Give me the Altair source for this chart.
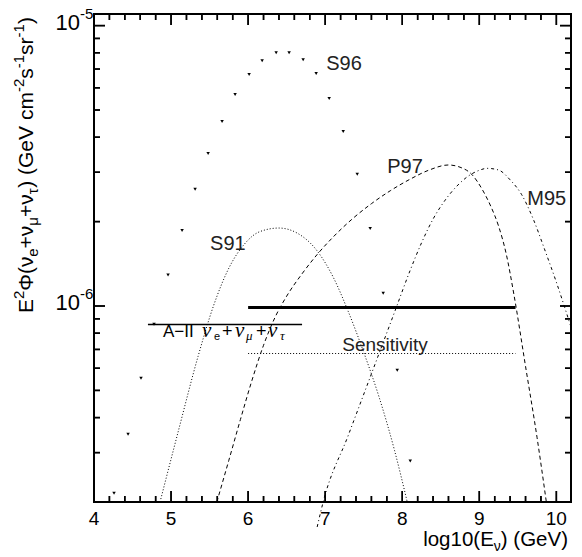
import math
import altair as alt
import pandas as pd

# ---------------- data ----------------
s96_x = [4.260, 4.442, 4.610, 4.779, 4.961, 5.143, 5.312, 5.481, 5.662, 5.831, 6.013, 6.182,
         6.364, 6.532, 6.714, 6.883, 7.052, 7.234, 7.416, 7.584, 7.753, 7.935, 8.104]
s96_y = [2.15e-7, 3.49e-7, 5.52e-7, 8.61e-7, 1.29e-6, 1.86e-6, 2.61e-6, 3.50e-6, 4.55e-6, 5.68e-6,
         6.69e-6, 7.50e-6, 8.01e-6, 8.01e-6, 7.56e-6, 6.75e-6, 5.50e-6, 4.19e-6, 2.95e-6, 1.89e-6,
         1.11e-6, 5.90e-7, 2.80e-7]

s91_x = [4.857, 5.10, 5.35, 5.55, 5.75, 5.95, 6.15, 6.40, 6.65, 6.90, 7.10, 7.30, 7.50, 7.70, 7.90, 8.065]
s91_y = [2.0e-7, 3.631e-7, 6.607e-7, 1.0e-6, 1.365e-6, 1.660e-6, 1.841e-6, 1.897e-6, 1.811e-6,
         1.567e-6, 1.274e-6, 9.55e-7, 6.84e-7, 4.73e-7, 3.055e-7, 2.0e-7]

p97_x = [5.594, 5.75, 5.90, 6.05, 6.20, 6.35, 6.50, 6.70, 6.90, 7.10, 7.35, 7.60, 7.85, 8.10, 8.35,
         8.60, 8.75, 8.90, 9.05, 9.15, 9.25, 9.35, 9.45, 9.60, 9.75, 9.87]
p97_y = [2.0e-7, 2.818e-7, 3.936e-7, 5.433e-7, 7.244e-7, 9.12e-7, 1.084e-6, 1.303e-6, 1.531e-6,
         1.758e-6, 2.042e-6, 2.317e-6, 2.582e-6, 2.831e-6, 3.055e-6, 3.184e-6, 3.126e-6, 2.951e-6,
         2.570e-6, 2.265e-6, 1.928e-6, 1.531e-6, 1.096e-6, 6.095e-7, 3.388e-7, 2.0e-7]

m95_x = [6.896, 6.974, 7.30, 7.60, 7.90, 8.10, 8.25, 8.40, 8.55, 8.70, 8.85, 9.00, 9.10, 9.25, 9.40,
         9.55, 9.70, 9.85, 10.00, 10.12, 10.19]
m95_y = [1.629e-7, 2.0e-7, 3.459e-7, 5.728e-7, 9.506e-7, 1.334e-6, 1.679e-6, 2.042e-6, 2.371e-6,
         2.661e-6, 2.897e-6, 3.048e-6, 3.097e-6, 3.055e-6, 2.818e-6, 2.495e-6, 2.042e-6, 1.585e-6,
         1.216e-6, 9.66e-7, 8.41e-7]

# horizontal segments: limit (thick), A-II, sensitivity
limit_x = [6.0, 9.47]
limit_y = 9.87e-7
a2_x = [4.70, 6.70]
a2_y = 8.59e-7
sens_x = [6.0, 9.47]
sens_y = 6.77e-7

# curve labels (left x, baseline y)
lab_text = ["S96", "P97", "M95", "S91", "Sensitivity"]
lab_x = [7.013, 7.805, 9.623, 5.506, 7.221]
lab_y = [6.97e-6, 2.97e-6, 2.29e-6, 1.579e-6, 6.9e-7]

x_major = [4, 5, 6, 7, 8, 9, 10]
x_labels = ["4", "5", "6", "7", "8", "9", "10"]
x_minor = [4.2, 4.4, 4.6, 4.8, 5.2, 5.4, 5.6, 5.8, 6.2, 6.4, 6.6, 6.8, 7.2, 7.4, 7.6, 7.8,
           8.2, 8.4, 8.6, 8.8, 9.2, 9.4, 9.6, 9.8]
y_major = [1e-6, 1e-5]
y_major_sup = ["-6", "-5"]
y_minor = [3e-7, 4e-7, 5e-7, 6e-7, 7e-7, 8e-7, 9e-7,
           2e-6, 3e-6, 4e-6, 5e-6, 6e-6, 7e-6, 8e-6, 9e-6]

# ---------------- layout ----------------
W, H = 477, 488
PADL, PADT = 94, 14
XMIN, XMAX = 4.0, 10.19
YMIN, YMAX = 2e-7, 1.1e-5
FONT = "Liberation Sans"
xs = alt.Scale(domain=[XMIN, XMAX], nice=False, zero=False)
ys = alt.Scale(type="log", domain=[YMIN, YMAX], nice=False)
PPU = W / (XMAX - XMIN)
PPD = H / math.log10(YMAX / YMIN)


def X(f):
    return alt.X(f, type="quantitative", scale=xs, axis=None)


def Y(f):
    return alt.Y(f, type="quantitative", scale=ys, axis=None)


layers = []


def curve(xv, yv, dash, width=1.0):
    df = pd.DataFrame({"x": xv, "y": yv})
    return alt.Chart(df).mark_line(color="black", strokeWidth=width, strokeDash=dash,
                                   interpolate="monotone").encode(x=X("x"), y=Y("y"))


layers.append(curve(s91_x, s91_y, [1, 2]))
layers.append(curve(p97_x, p97_y, [4, 3]))
layers.append(curve(m95_x, m95_y, [3, 3, 1, 3]))


def seg(xv, yv, width, dash=None):
    df = pd.DataFrame({"x0": [xv[0]], "x1": [xv[1]], "y": [yv]})
    kw = dict(color="black", strokeWidth=width)
    if dash:
        kw["strokeDash"] = dash
    return alt.Chart(df).mark_rule(**kw).encode(x=X("x0"), x2="x1", y=Y("y"))


layers.append(seg(limit_x, limit_y, 3))
layers.append(seg(a2_x, a2_y, 1.4))
layers.append(seg(sens_x, sens_y, 1, [1, 2]))


# ---- frame ticks (inside, four sides): vertical rules via fields, and tick marks ----
def xtick_layers(vals, L):
    f = 10 ** (L / PPD)
    out = []
    for lo, hi, yc in ((YMIN, YMIN * f, H - L / 2), (YMAX / f, YMAX, L / 2)):
        df = pd.DataFrame({"a": [float(v) for v in vals], "b0": lo, "b1": hi})
        out.append(alt.Chart(df).mark_rule(color="black", strokeWidth=1.5).encode(
            x=X("a"), y=Y("b0"), y2="b1"))
        out.append(alt.Chart(df).mark_tick(color="black", orient="vertical", size=L, thickness=1.5,
                                           opacity=1).encode(x=X("a"), y=alt.value(yc)))
    return out


def ytick_layers(vals, L):
    d = L / PPU
    out = []
    for lo, hi, xc in ((XMIN, XMIN + d, L / 2), (XMAX - d, XMAX, W - L / 2)):
        df = pd.DataFrame({"a": [float(v) for v in vals], "c0": lo, "c1": hi})
        out.append(alt.Chart(df).mark_rule(color="black", strokeWidth=1.5).encode(
            y=Y("a"), x=X("c0"), x2="c1"))
        out.append(alt.Chart(df).mark_tick(color="black", orient="horizontal", size=L, thickness=1.5,
                                           opacity=1).encode(y=Y("a"), x=alt.value(xc)))
    return out


layers += xtick_layers(x_major, 11) + xtick_layers(x_minor, 6)
layers += ytick_layers(y_major, 11) + ytick_layers(y_minor, 6)

# S96 points
layers.append(alt.Chart(pd.DataFrame({"x": s96_x, "y": s96_y})).mark_point(
    shape="triangle-down", filled=True, size=12, color="black", opacity=1).encode(x=X("x"), y=Y("y")))

# curve labels
for t, lx, ly in zip(lab_text, lab_x, lab_y):
    layers.append(alt.Chart(pd.DataFrame({"x": [lx], "y": [ly], "t": [t]})).mark_text(
        align="left", baseline="alphabetic", font=FONT, fontSize=20 if t != "Sensitivity" else 19,
        color="#222").encode(x=X("x"), y=Y("y"), text="t:N"))

# x tick labels
layers.append(alt.Chart(pd.DataFrame({"v": x_major, "t": x_labels})).mark_text(
    align="center", baseline="alphabetic", font=FONT, fontSize=19, color="black").encode(
    x=X("v"), y=alt.value(H + 23), text="t:N"))

# y tick labels 10^n
ydf = pd.DataFrame({"v": y_major, "t": ["10", "10"], "s": y_major_sup})
layers.append(alt.Chart(ydf).mark_text(align="right", baseline="alphabetic", font=FONT, fontSize=22,
                                       dy=4, color="black").encode(x=alt.value(-14), y=Y("v"), text="t:N"))
layers.append(alt.Chart(ydf).mark_text(align="left", baseline="alphabetic", font=FONT, fontSize=15,
                                       dy=-7, color="black").encode(x=alt.value(-14), y=Y("v"), text="s:N"))

WID = {'E': .667, 'Φ': .778, '(': .333, ')': .333, 'ν': .5, '+': .584, ' ': .278, 'G': .778,
       'e': .556, 'V': .667, 'c': .5, 'm': .833, 's': .5, 'r': .333, '-': .333, '1': .556,
       '2': .556, '0': .556, 'l': .222, 'o': .556, 'g': .556, 'μ': .577, 'τ': .434}


def tw(s, size):
    return sum(WID.get(c, .556) for c in s) * size


def piece(text, px, py, size, angle=0, align="left", font=FONT, style="normal"):
    kw = dict(align=align, baseline="alphabetic", font=font, fontSize=size, color="black", fontStyle=style)
    if angle:
        kw["angle"] = angle
    return alt.Chart(pd.DataFrame({"t": [text]})).mark_text(**kw).encode(
        text="t:N", x=alt.value(px), y=alt.value(py))


# y title (rotated, reading upward)
ytitle = [("E", "n"), ("2", "sup"), ("Φ(ν", "n"), ("e", "sub"), ("+ν", "n"), ("μ", "sub"),
          ("+ν", "n"), ("τ", "sub"), (") (GeV cm", "n"), ("-2", "sup"), ("s", "n"), ("-1", "sup"),
          ("sr", "n"), ("-1", "sup"), (")", "n")]
FY, fy = 21, 15
ax, ay = 33 - PADL, 313 - PADT
along = 0.0
for t, k in ytitle:
    size = FY if k == "n" else fy
    off = {"n": 0, "sup": -9, "sub": 5}[k]
    layers.append(piece(t, ax + off, ay - along, size, angle=270))
    along += tw(t, size)

# x title (right aligned at the frame's right end)
xtitle = [("log10(E", "n"), ("ν", "sub"), (") (GeV)", "n")]
FX, fx = 20.5, 14
total = sum(tw(t, FX if k == "n" else fx) for t, k in xtitle)
cx = (568 - PADL) - total
bx = 546 - PADT
for t, k in xtitle:
    size = FX if k == "n" else fx
    off = 5 if k == "sub" else 0
    layers.append(piece(t, cx, bx + off, size))
    cx += tw(t, size)

# A-II label with Greek subscripts
a2_base = 337 - PADT
SERIF = "Liberation Serif"
a2_pieces = [("A−II", 163, 0, 17, FONT, "normal"),
             ("ν", 202, 0, 21, SERIF, "italic"), ("e", 214, 3, 11, FONT, "normal"),
             ("+", 222, 0, 18, FONT, "normal"),
             ("ν", 235, 0, 21, SERIF, "italic"), ("μ", 246, 3, 13, SERIF, "italic"),
             ("+", 256, 0, 18, FONT, "normal"),
             ("ν", 268, 0, 21, SERIF, "italic"), ("τ", 280, 3, 13, SERIF, "italic")]
for t, px, dyy, size, fnt, sty in a2_pieces:
    layers.append(piece(t, px - PADL, a2_base + dyy, size, font=fnt, style=sty))

chart = alt.layer(*layers).properties(
    width=W, height=H,
    padding={"left": PADL, "top": PADT, "right": 582 - PADL - W, "bottom": 557 - PADT - H},
    autosize=alt.AutoSizeParams(type="none"),
    background="white",
).configure_view(stroke="black", strokeWidth=2)

chart.save("out.html", embed_options={"renderer": "svg", "actions": False})
